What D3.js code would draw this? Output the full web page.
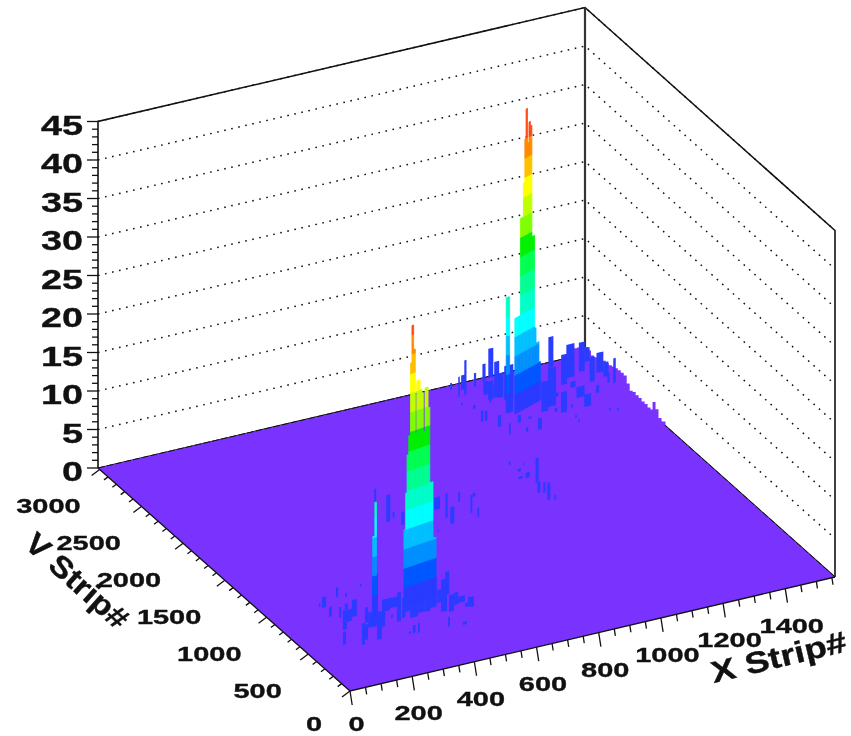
<!DOCTYPE html>
<html>
<head>
<meta charset="utf-8">
<script src="https://cdn.jsdelivr.net/npm/d3@7"></script>
<style>
html,body{margin:0;padding:0;background:#fff;}
svg{display:block;filter:blur(0.45px);}
text{font-family:"Liberation Sans",Arial,sans-serif;font-weight:700;fill:#111;stroke:#111;stroke-width:0.35px;}
</style>
</head>
<body>
<div id="chart"></div>
<script>
// ---- axis values
const xTickLabels = [0,200,400,600,800,1000,1200,1400];
const yTickLabels = [0,500,1000,1500,2000,2500,3000];
const zTickLabels = [0,5,10,15,20,25,30,35,40,45];
const xAxisTitle = "X Strip#";
const yAxisTitle = "V Strip#";

// ---- colour contour levels
const contourLevels = [2.5,5,7.5,10,12.5,15,17.5,20,22.5,25,27.5,30,32.5,35];
const contourColors = ["#2a3cff","#0058ff","#0090ff","#00c0ff","#00ffff","#00ffc8","#00ff90","#00ff50","#00f000","#80ff00","#c0ff00","#ffff00","#ffc000","#ff8a00","#ff4a10"];

// ---- main ridge near the front corner
const tower1X = [378,384,389,395,401,406,412,418,423,429,435,440,446,452,457,463,468,474,480,485];
const tower1Y = [763,765,767,769,770,772,774,776,778,780,782,783,785,787,789,791,793,794,796,798];
const tower1H = [10,14.7,19.6,22,31.4,36.2,33,22,28.8,28.8,27.5,27,21.9,27.5,27.5,24.8,15,15,7.7,7.6];

// ---- main ridge near the back corner
const tower2X = [1211,1217,1223,1228,1234,1240,1246,1252,1257,1263,1269,1275,1281,1286,1292,1298,1304,1310];
const tower2Y = [2552,2557,2562,2566,2571,2576,2581,2586,2590,2595,2600,2605,2610,2614,2619,2624,2629,2634];
const tower2H = [12.4,12.4,12.4,12.4,25,25,29.4,35,38.8,34.3,36.9,36.3,21.8,21.8,9.7,7.7,7.7,5];

// ---- isolated spikes: x, v, width, height
const spikes = [[1192,2585,11,15],[284,761,5,14.5],[277,761,6,10.1]];

// ---- low activity cells: x, v, width, height
const noiseFront = [
[603,1962,6,1.7],[576,1717,13,3.5],[604,1745,6,0.8],[606,1648,10,1.7],[732,1726,19,1.6],[738,1612,7,3.2],[733,1535,13,2.2],[816,1750,6,1.3],[816,1603,6,2.3],[867,1769,9,0.5],[822,1543,6,1.2],
[234,1041,7,1.2],[167,958,13,1.4],[162,977,5,0.5],[159,845,9,1.3],[257,1019,6,0.5],[182,809,7,1.4],[219,880,10,0.8],[157,671,13,2.5],[190,746,16,1.6],[217,787,16,2.2],[114,510,10,1.7],
[162,462,10,2.8],[184,508,10,2],[233,690,10,2],[227,629,16,2],[242,627,16,2.5],[265,605,10,3.1],[280,780,19,5],[215,478,16,3.6],[323,1088,5,0.4],[308,765,26,1.6],[340,787,22,1.3],[314,678,6,0.4],
[317,620,13,3.8],[342,650,10,2.6],[367,707,16,2.9],[362,630,26,3.6],[397,664,22,3.4],[418,656,16,3.2],[441,687,22,3.6],[474,723,13,1.7],[458,616,19,4.2],[517,788,13,3],[478,596,16,2.2],[511,658,13,1.6],
[527,670,22,0.8],[533,610,10,0.5],[541,602,10,1.3],[548,595,10,1.3],[433,439,6,1.3],[476,422,13,0.4],
[339,450,6,1.3],[326,463,9,1],[314,462,6,0.3],[677,1482,5,0.3]
];
const noiseMiddle = [
[1050,2021,6,0.4],[1053,1923,10,0.4],[1086,1985,5,0.2],[1035,1845,13,0.3],[1056,1839,13,0.7],[1067,1761,10,3.2],[1043,1649,10,1.4],[1058,1634,7,1.4],[1048,1549,10,2.2],[1066,1531,6,0.7]
];
const noiseBack = [
[1137,2883,7,4.5],[1116,2877,5,2.6],[1143,2944,13,1.9],[1115,2972,6,0.9],[1184,2944,7,1.8],[1100,2783,5,0.3],[1119,2710,8,0.5],[1220,2977,10,2.3],[1185,2835,16,1.7],[1183,2769,16,2.4],
[1202,2778,16,1.7],[1246,3004,16,3.8],[1241,2914,16,3],[1214,2765,16,3.2],[1178,2735,6,0.4],[1102,2551,8,1.5],[1115,2552,8,1.3],[1131,2455,10,1.5],[1224,2729,29,4.4],[1192,2585,22,2],
[1136,2342,6,1.5],[1193,2448,10,1],[1188,2331,7,0.6],[1224,2323,13,1.5],[1231,2465,10,0.3],[1284,2507,22,3.9],[1427,2961,16,4],[1315,2544,26,5],[1360,2635,13,0.5],[1317,2474,10,0.5],
[1411,2746,19,3.9],[1331,2447,19,2.7],[1444,2808,26,4.3],[1426,2691,16,0.8],[1371,2475,5,0.5],[1493,2842,19,3.8],[1413,2569,26,1.4],[1353,2358,5,0.4],[1349,2307,5,0.4],[1536,2934,16,1.8],
[1407,2453,22,1.6],[1492,2707,16,3.2],[1535,2787,22,2.6],[1477,2573,10,1],[1541,2726,16,1.9],[1534,2652,7,1.3],[1549,2637,8,3.2],[1459,2347,5,0.4],[1480,2327,5,0.4]
];

// ---- jagged rim of the purple sheet along the far edges
const rimBackX = [1476,1486,1495,1505,1515,1524,1534,1544,1553];
const rimBackH = [0,0.3,0.6,0.8,1,1.1,1.1,1,0.9];
const rimSideY = [3020,2984,2948,2912,2876,2840,2804,2768,2732,2696,2660,2624,2588,2552,2516,2480,2444,2408,2372,2336,2300,2264,2228,2204,2168,2132,2096,2048];
const rimSideH = [0.9,0.8,0.5,0.6,0.9,1,1.2,1.2,1.3,1.5,1.6,1.7,1.7,1.7,1,0.4,0.6,0.5,0.5,0.4,0.4,0.3,0.4,1.6,1,0.2,0.1,0];

// ---- projection built on d3 scales
const W = 851, H = 736;
const xMax = 1560, yMax = 3020, zMax = 45;
const uS = d3.scaleLinear().domain([0,xMax]).range([0,1]);
const vS = d3.scaleLinear().domain([0,yMax]).range([0,1]);
const zS = d3.scaleLinear().domain([0,zMax]).range([0,346.5]);
function P(x,y,z){
  const u = uS(x), v = vS(y);
  return [350 + 485*u - 252*v + 2*u*v, 691 - 114*u - 223*v - zS(z||0)];
}
const svg = d3.select("#chart").append("svg").attr("width",W).attr("height",H);
const line = d3.line();
const poly = pts => line(pts) + "Z";

// ---- walls: gridlines
const gGrid = svg.append("g").attr("fill","none").attr("stroke","#111").attr("stroke-width",1.5).attr("stroke-dasharray","1.6,5.6");
zTickLabels.forEach(z=>{
  if(z===0) return;
  gGrid.append("path").attr("d",line([P(0,yMax,z),P(xMax,yMax,z),P(xMax,0,z)]));
});

// ---- box outline
const gBox = svg.append("g").attr("fill","none").attr("stroke","#111");
gBox.append("path").attr("stroke-width",1.6).attr("d",line([P(0,yMax,0),P(0,yMax,zMax),P(xMax,yMax,zMax),P(xMax,0,zMax),P(xMax,0,0)]));
gBox.append("path").attr("stroke-width",2.2).attr("stroke","#333").attr("d",line([P(xMax,yMax,0),P(xMax,yMax,zMax)]));
gBox.append("path").attr("stroke-width",1.2).attr("d",line([P(0,yMax,0),P(xMax,yMax,0),P(xMax,0,0)]));

// ---- floor
const purple = "#7a33ff", blue = "#2a3cff";
svg.append("path").attr("fill",purple).attr("d",poly([P(0,0),P(xMax,0),P(xMax,yMax),P(0,yMax)]));
svg.append("path").attr("fill","none").attr("stroke","#111").attr("stroke-width",1).attr("stroke-dasharray","7,2")
   .attr("d",line([P(0,yMax,0),P(xMax,yMax,0),P(xMax,0,0)]));

// rim
const stepLine = d3.line().curve(d3.curveStepAfter);
const rimBackPts = rimBackX.map((x,i)=>P(x,yMax,rimBackH[i]));
const rimSidePts = rimSideY.map((y,i)=>P(xMax,y,rimSideH[i]));
svg.append("path").attr("fill",purple)
   .attr("d",stepLine(rimBackPts.concat(rimSidePts)) + "L" + P(xMax-120,yMax-120).join(",") + "Z");

// ---- cells
function cell(g,x,y,w,z0,z1,color,dy){
  g.append("path").attr("fill",color).attr("stroke",color).attr("stroke-width",0.8)
   .attr("d",poly([P(x,y,z0),P(x+w,y+(dy||0),z0),P(x+w,y+(dy||0),z1),P(x,y,z1)]));
}
const gNoise = svg.append("g");
[...noiseBack,...noiseMiddle,...noiseFront].sort((a,b)=>b[1]-a[1]).forEach(d=>{
  g = gNoise;
  g.append("path").attr("fill",blue).attr("d",poly([P(d[0],d[1],0),P(d[0]+d[2],d[1],0),P(d[0]+d[2],d[1],d[3]),P(d[0],d[1],d[3])]));
});

const bandColor = d3.scaleThreshold().domain(contourLevels).range(contourColors);
function column(g,x,y,w,h,dy){
  const edges = [0,...contourLevels.filter(l=>l<h),h];
  d3.pairs(edges).forEach(([a,b])=>cell(g,x,y,w,a,b,bandColor((a+b)/2),dy));
}
const gTowers = svg.append("g");
spikes.forEach(d=>column(gTowers,d[0],d[1],d[2],d[3]));
tower2H.forEach((h,i)=>column(gTowers,tower2X[i],tower2Y[i],6,h,5));
tower1H.forEach((h,i)=>column(gTowers,tower1X[i],tower1Y[i],6,h,2));

// ---- axes
const gAxis = svg.append("g").attr("fill","none").attr("stroke","#111").attr("stroke-width",1.3);
gAxis.append("path").attr("d",line([P(0,yMax),P(0,0),P(xMax,0)]));
d3.range(0,1551,50).forEach(x=>{
  const p = P(x,0), major = x%200===0, l = major?[2.2,14]:[1.1,7];
  gAxis.append("path").attr("d",line([p,[p[0]+l[0],p[1]+l[1]]]));
});
d3.range(0,3001,100).forEach(y=>{
  const p = P(0,y), major = y%500===0, l = major?[-8,6]:[-4,3];
  gAxis.append("path").attr("d",line([p,[p[0]+l[0],p[1]+l[1]]]));
});
d3.range(0,46,1).forEach(z=>{
  const p = P(0,yMax,z), major = z%5===0, l = major?11:6;
  gAxis.append("path").attr("d",line([p,[p[0]-l,p[1]]]));
});

// ---- labels
const gText = svg.append("g");
function label(str,x,y,size,sx,anchor){
  gText.append("text").text(str).attr("font-size",size).attr("text-anchor",anchor)
    .attr("transform",`translate(${x},${Math.min(y,731)}) scale(${sx},1)`);
}
zTickLabels.forEach(z=>{ const p=P(0,yMax,z); label(z,p[0]-15,p[1]+13,27,1.4,"end"); });
xTickLabels.forEach(x=>{ const p=P(x,0); label(x,p[0]+6.5,p[1]+44,21,1.38,"middle"); });
yTickLabels.forEach(y=>{ const p=P(0,y); label(y,p[0]-28+y*0.003,p[1]+44,21,1.38,"end"); });
gText.append("text").text(xAxisTitle).attr("font-size",30).attr("text-anchor","middle")
  .attr("transform","translate(781,667) rotate(-13.4) scale(1.22,1)");
gText.append("text").text(yAxisTitle).attr("font-size",30).attr("text-anchor","start")
  .attr("transform","translate(23,546) rotate(42) scale(1.12,1)");
</script>
</body>
</html>
